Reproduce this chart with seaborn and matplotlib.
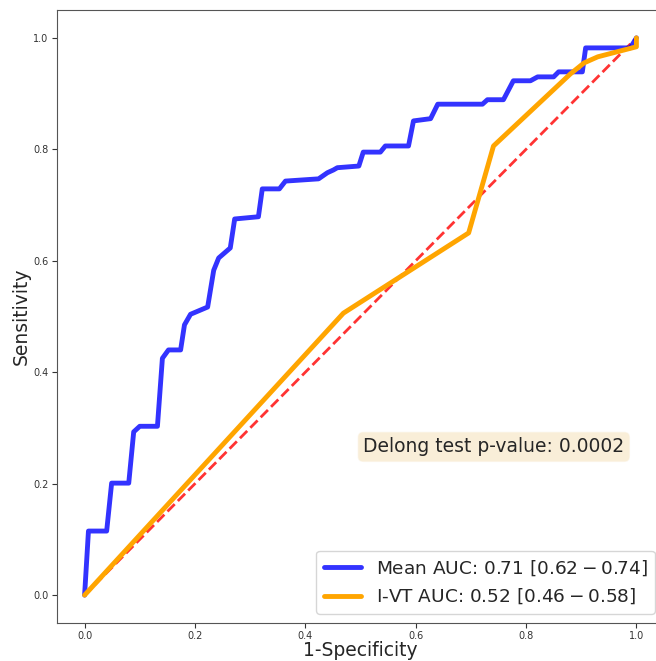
import matplotlib
matplotlib.use("Agg")
import matplotlib.pyplot as plt
import seaborn as sns

# ROC curve points
mean_fpr = [0.0, 0.007, 0.04, 0.049, 0.08, 0.089, 0.1, 0.132, 0.141, 0.152,
            0.174, 0.181, 0.192, 0.223, 0.234, 0.243, 0.264, 0.272, 0.315, 0.322,
            0.353, 0.364, 0.424, 0.44, 0.451, 0.458, 0.497, 0.505, 0.536, 0.545,
            0.587, 0.596, 0.627, 0.64, 0.721, 0.73, 0.759, 0.777, 0.808, 0.821,
            0.85, 0.859, 0.902, 0.908, 0.989, 1.0]
mean_tpr = [0.0, 0.115, 0.115, 0.201, 0.201, 0.293, 0.303, 0.303, 0.425, 0.44,
            0.44, 0.485, 0.504, 0.517, 0.583, 0.605, 0.623, 0.675, 0.679, 0.729,
            0.729, 0.743, 0.747, 0.758, 0.763, 0.767, 0.770, 0.795, 0.795, 0.806,
            0.806, 0.851, 0.855, 0.881, 0.881, 0.889, 0.889, 0.923, 0.923, 0.930,
            0.930, 0.939, 0.939, 0.982, 0.982, 1.0]

ivt_fpr = [0.0, 0.469, 0.696, 0.741, 0.88, 0.905, 0.93, 1.0, 1.0]
ivt_tpr = [0.0, 0.506, 0.65, 0.806, 0.935, 0.955, 0.966, 0.984, 1.0]

chance = [0.0, 1.0]

mean_label = r"Mean AUC: 0.71 [$0.62-0.74$]"
ivt_label = r"I-VT AUC: 0.52 [$0.46-0.58$]"
pvalue_text = "Delong test p-value: 0.0002"

sns.set_style("ticks")

fig = plt.figure(figsize=(6.56, 6.61), dpi=100)
ax = fig.add_axes([57 / 656, 38 / 661, 607 / 656, 613 / 661])

sns.lineplot(x=chance, y=chance, ax=ax, color="red", alpha=0.8,
             linestyle="--", linewidth=2)
sns.lineplot(x=mean_fpr, y=mean_tpr, ax=ax, sort=False, estimator=None,
             color="blue", alpha=0.8, linewidth=3.5, label=mean_label)
sns.lineplot(x=ivt_fpr, y=ivt_tpr, ax=ax, sort=False, estimator=None,
             color="orange", linewidth=3.5, label=ivt_label)

ax.set_xlim(-0.05, 1.05)
ax.set_ylim(-0.05, 1.05)
ax.tick_params(labelsize=7, colors="#333333", pad=2.5)
for s in ax.spines.values():
    s.set_color("#555555")
ax.set_xlabel("1-Specificity", fontsize=13.5, labelpad=0)
ax.set_ylabel("Sensitivity", fontsize=13.5, labelpad=2)

ax.text(0.505, 0.266, pvalue_text, fontsize=13.5, ha="left", va="center",
        bbox=dict(boxstyle="round", facecolor="wheat", alpha=0.5))

ax.legend(loc="lower right", fontsize=13.3)

fig.savefig("out.png", dpi=100)
